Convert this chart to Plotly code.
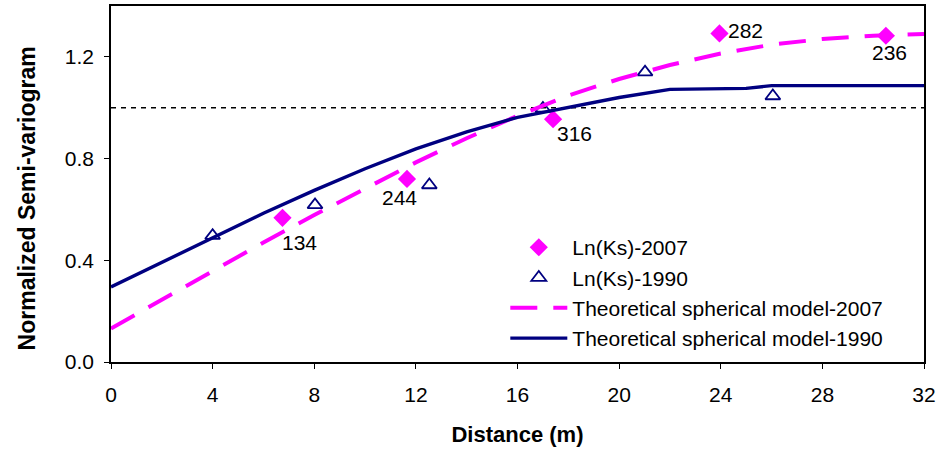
import plotly.graph_objects as go

# Experimental semivariogram points
x_2007 = [6.75, 11.65, 17.4, 23.95, 30.5]
y_2007 = [0.567, 0.72, 0.955, 1.292, 1.283]
labels_2007 = ["134", "244", "316", "282", "236"]

x_1990 = [4.0, 8.03, 12.53, 17.0, 21.02, 26.05]
y_1990 = [0.497, 0.618, 0.696, 0.997, 1.14, 1.046]

# Theoretical spherical models
xm_2007 = [0, 2, 4, 6, 8, 10, 12, 14, 16, 18, 20, 22, 24, 26, 28, 30, 32]
ym_2007 = [0.132, 0.245, 0.36, 0.47, 0.578, 0.682, 0.785, 0.88, 0.968, 1.048, 1.113, 1.168, 1.213, 1.248, 1.27, 1.283, 1.29]

xm_1990 = [0, 2, 4, 6, 8, 10, 12, 14, 16, 17, 18, 19, 20, 22, 24, 25, 26, 32]
ym_1990 = [0.295, 0.392, 0.49, 0.585, 0.675, 0.76, 0.838, 0.905, 0.962, 0.982, 1.003, 1.022, 1.04, 1.072, 1.076, 1.076, 1.087, 1.087]

sill_ref = 1.0

x_ticks = [0, 4, 8, 12, 16, 20, 24, 28, 32]
y_ticks = [0.0, 0.4, 0.8, 1.2]

# label pixel offsets (style)
label_dx = [17, -7, 21, 26, 4]
label_dy = [25, 19, 14, -3, 17]

FONT = "Arial, Liberation Sans, sans-serif"
FS = 21
MAGENTA = "#FF00FF"
NAVY = "#000080"

fig = go.Figure()

fig.add_trace(go.Scatter(
    x=x_2007, y=y_2007, mode="markers", name="Ln(Ks)-2007",
    marker=dict(symbol="diamond", size=14, color=MAGENTA),
    cliponaxis=False,
))
fig.add_trace(go.Scatter(
    x=x_1990, y=y_1990, mode="markers", name="Ln(Ks)-1990",
    marker=dict(symbol="triangle-up-open", size=13, color=NAVY, line=dict(width=1.8, color=NAVY)),
    cliponaxis=False,
))
fig.add_trace(go.Scatter(
    x=xm_2007, y=ym_2007, mode="lines", name="Theoretical spherical model-2007",
    line=dict(color=MAGENTA, width=4, dash="27px,16px"),
))
fig.add_trace(go.Scatter(
    x=xm_1990, y=ym_1990, mode="lines", name="Theoretical spherical model-1990",
    line=dict(color=NAVY, width=3.4),
))

for xv, yv, t, dx, dy in zip(x_2007, y_2007, labels_2007, label_dx, label_dy):
    fig.add_annotation(x=xv, y=yv, text=t, showarrow=False, xanchor="center", yanchor="middle",
                       xshift=dx, yshift=-dy, font=dict(family=FONT, size=FS, color="black"))

# y-axis title as annotation (positioned like the reference)
fig.add_annotation(xref="paper", yref="paper", x=-0.1033, y=0.4595, text="<b>Normalized Semi-variogram</b>",
                   textangle=-90, showarrow=False, xanchor="center", yanchor="middle",
                   font=dict(family=FONT, size=23, color="black"))

fig.add_shape(type="line", xref="paper", yref="y", x0=0, x1=1.006, y0=sill_ref, y1=sill_ref,
              line=dict(color="black", width=1.4, dash="5px,5px"), layer="below")

fig.update_layout(
    width=940, height=455,
    margin=dict(l=111, r=16, t=4, b=93),
    paper_bgcolor="white", plot_bgcolor="white",
    font=dict(family=FONT, size=FS, color="black"),
    showlegend=True,
    legend=dict(x=0.485, y=0.379, xanchor="left", yanchor="top",
                bgcolor="rgba(0,0,0,0)", font=dict(family=FONT, size=FS, color="black"),
                tracegroupgap=0, itemwidth=57),
    xaxis=dict(range=[0, 32], tickvals=x_ticks, ticktext=[str(v) for v in x_ticks],
               showgrid=False, zeroline=False, showline=True, linecolor="black", linewidth=1.5,
               mirror=True, ticks="outside", ticklen=5, tickcolor="black", ticklabelstandoff=8,
               tickfont=dict(family=FONT, size=FS),
               title=dict(text="<b>Distance (m)</b>", font=dict(family=FONT, size=22), standoff=22)),
    yaxis=dict(range=[0, 1.4], tickvals=y_ticks, ticktext=[f"{v:.1f}" for v in y_ticks],
               showgrid=False, zeroline=False, showline=True, linecolor="black", linewidth=1.5,
               mirror=True, ticks="outside", ticklen=5, tickcolor="black", ticklabelstandoff=6,
               tickfont=dict(family=FONT, size=FS)),
)

fig.write_html("out.html", config={"displayModeBar": False},
               post_script="document.body.style.margin='0';")
